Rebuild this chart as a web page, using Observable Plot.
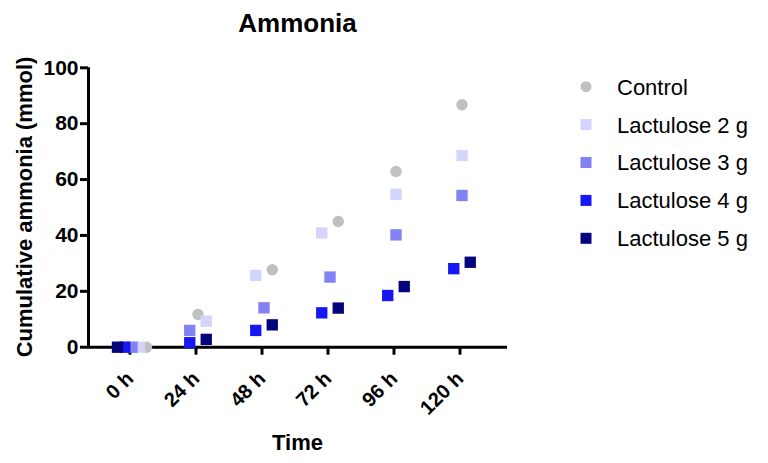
<!DOCTYPE html>
<html>
<head>
<meta charset="utf-8">
<script src="https://cdn.jsdelivr.net/npm/d3@7"></script>
<script src="https://cdn.jsdelivr.net/npm/@observablehq/plot@0.6"></script>
<style>
  body { margin: 0; background: #fff; }
  #chart svg { display: block; }
</style>
</head>
<body>
<div id="chart"></div>
<script>
// ---- data ----
const times = [0, 24, 48, 72, 96, 120];
const tickLabels = ["0 h", "24 h", "48 h", "72 h", "96 h", "120 h"];
const yTicks = [0, 20, 40, 60, 80, 100];
const seriesNames = ["Control", "Lactulose 2 g", "Lactulose 3 g", "Lactulose 4 g", "Lactulose 5 g"];
const control = [0, 11.7, 27.7, 45.0, 62.9, 86.8];
const lac2 = [0, 9.3, 25.7, 40.9, 54.7, 68.6];
const lac3 = [0, 6.0, 14.1, 25.1, 40.2, 54.3];
const lac4 = [0, 1.6, 6.0, 12.3, 18.5, 28.1];
const lac5 = [0, 2.8, 8.0, 14.0, 21.7, 30.4];
const seriesColors = ["#c0c0c0", "#d5d5fb", "#8282f4", "#1717f2", "#04047d"];

const seriesValues = [control, lac2, lac3, lac4, lac5];

// ---- layout ----
const W = 768, H = 463;
const mL = 88, mR = 261, mT = 67.3, mB = 116.3;
const pxPerHour = 66 / 24;
const firstTickPx = 131.5;
const xmin = -(firstTickPx - mL) / pxPerHour;
const xmax = xmin + (W - mL - mR) / pxPerHour;
const pxPerUnitY = (H - mB - mT) / 100;

// ---- side-by-side placement of overlapping points (Prism-like) ----
const rows = [];
times.forEach((t, j) => {
  const items = seriesValues.map((vals, i) => ({series: seriesNames[i], i, t, v: vals[j]}));
  const asc = items.slice().sort((a, b) => a.v - b.v || b.i - a.i);
  const clusters = [];
  let cur = null;
  const thr = 11.9 / pxPerUnitY;
  for (const it of asc) {
    if (cur && it.v - cur[0].v < thr) cur.push(it);
    else { cur = [it]; clusters.push(cur); }
  }
  for (const c of clusters) {
    const n = c.length;
    const sp = n > 1 ? Math.min(16.5, 29 / (n - 1)) : 0;
    c.forEach((it, k) => { it.x = t + ((k - (n - 1) / 2) * sp) / pxPerHour; });
  }
  rows.push(...items);
});
rows.sort((a, b) => a.i - b.i);

const font = "'Liberation Sans', Arial, Helvetica, sans-serif";

const plot = Plot.plot({
  width: W,
  height: H,
  marginLeft: mL,
  marginRight: mR,
  marginTop: mT,
  marginBottom: mB,
  style: {fontFamily: font, background: "#fff", color: "#000"},
  x: {domain: [xmin, xmax], axis: null},
  y: {domain: [0, 100], axis: null},
  color: {domain: seriesNames, range: seriesColors},
  marks: [
    Plot.axisY({ticks: yTicks, tickSize: 8, tickPadding: 2, fontSize: 21, fontWeight: "bold", strokeWidth: 3, label: null, fill: "#000"}),
    Plot.axisX({ticks: times, tickFormat: d => tickLabels[times.indexOf(d)], tickRotate: -45, tickSize: 8, tickPadding: 20, dx: -2, fontSize: 20, fontWeight: "bold", strokeWidth: 3, label: null, fill: "#000"}),
    Plot.ruleX([xmin], {stroke: "#000", strokeWidth: 3}),
    Plot.ruleY([0], {stroke: "#000", strokeWidth: 3}),
    Plot.dot(rows.filter(d => d.i === 0), {x: "x", y: "v", fill: "series", symbol: "circle", r: 5.7, stroke: "none"}),
    Plot.dot(rows.filter(d => d.i > 0), {x: "x", y: "v", fill: "series", symbol: "square", r: 6.4, stroke: "none"})
  ]
});

document.getElementById("chart").appendChild(plot);

// ---- titles & legend ----
const svg = d3.select(plot);
svg.append("text")
  .attr("x", mL + (W - mL - mR) / 2).attr("y", 31.7)
  .attr("text-anchor", "middle")
  .attr("font-family", font).attr("font-size", 26).attr("font-weight", "bold")
  .attr("fill", "#000").text("Ammonia");
svg.append("text")
  .attr("x", mL + (W - mL - mR) / 2).attr("y", 450)
  .attr("text-anchor", "middle")
  .attr("font-family", font).attr("font-size", 22).attr("font-weight", "bold")
  .attr("fill", "#000").text("Time");
svg.append("text")
  .attr("transform", `translate(31.5,${(mT + H - mB) / 2}) rotate(-90)`)
  .attr("text-anchor", "middle")
  .attr("font-family", font).attr("font-size", 22).attr("font-weight", "bold")
  .attr("fill", "#000").text("Cumulative ammonia (mmol)");

const lg = svg.append("g").attr("text-anchor", "start");
seriesNames.forEach((name, i) => {
  const cy = 86.7 + i * 37.9;
  if (i === 0) {
    lg.append("circle").attr("cx", 586).attr("cy", cy).attr("r", 5.5).attr("fill", seriesColors[i]);
  } else {
    lg.append("rect").attr("x", 586 - 5.5).attr("y", cy - 5.5).attr("width", 11).attr("height", 11).attr("fill", seriesColors[i]);
  }
  lg.append("text").attr("x", 617).attr("y", cy + 7.9)
    .attr("text-anchor", "start")
    .attr("font-family", font).attr("font-size", 22)
    .attr("fill", "#000").text(name);
});
</script>
</body>
</html>
